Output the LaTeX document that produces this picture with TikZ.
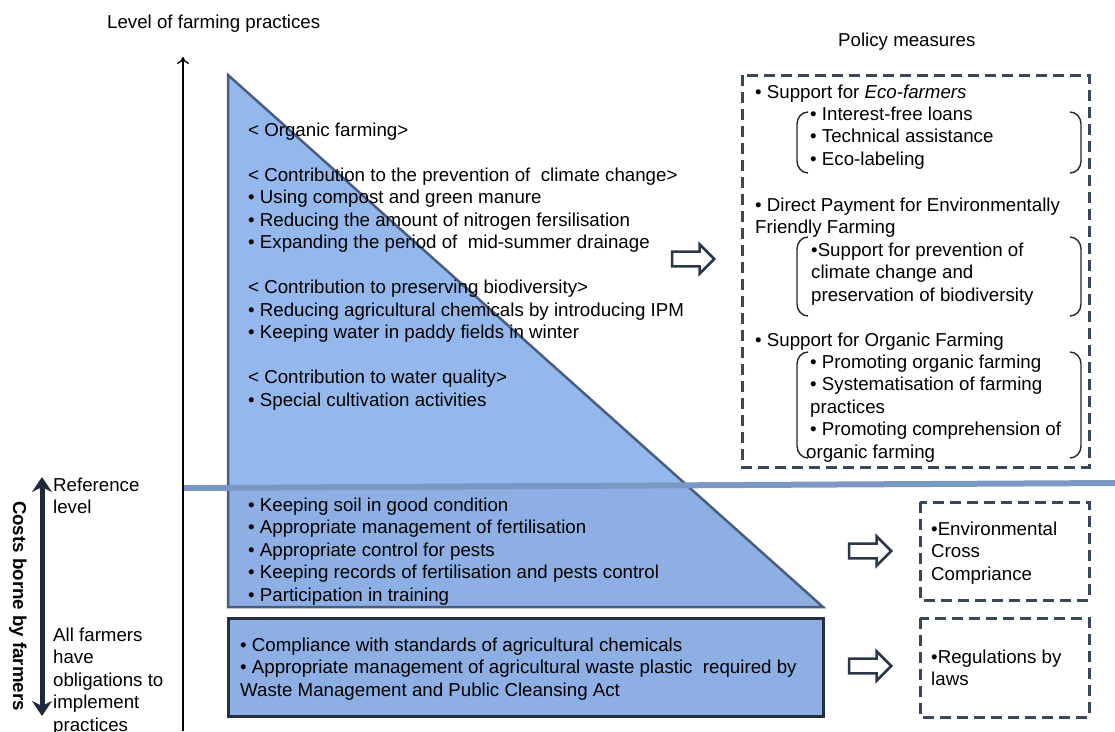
\documentclass[tikz,border=0pt]{standalone}
\usepackage{fontspec}
\setmainfont{Liberation Sans}
\usetikzlibrary{arrows.meta,shapes.arrows}
\definecolor{triup}{HTML}{95B8EC}
\definecolor{trilow}{HTML}{8DAFE4}
\definecolor{triborder}{HTML}{4A5D7E}
\definecolor{boxborder}{HTML}{27303D}
\definecolor{refline}{HTML}{7B98C4}
\definecolor{dashcol}{HTML}{3A475B}
\definecolor{arrcol}{HTML}{2B3646}
\definecolor{dblcol}{HTML}{1F2B3B}
\begin{document}
\begin{tikzpicture}[x=1pt,y=-1pt,
  txt/.style={font=\fontsize{18.7}{22.5}\selectfont, inner sep=0pt, anchor=base west, align=left, text=black},
  dbox/.style={draw=dashcol, line width=3pt, dash pattern=on 11pt off 6pt},
  hollow/.style={single arrow, draw=arrcol, fill=white, line width=2.5pt, minimum height=42pt, minimum width=29pt, inner sep=6.2pt, single arrow tip angle=90, anchor=tip},
  brk/.style={draw=black!85, line width=1.4pt},
]
\useasboundingbox (0,0) rectangle (1115,731);

% triangle with two shades
\fill[trilow] (228,75) -- (228,607) -- (823,607) -- cycle;
\begin{scope}
  \clip (0,0) rectangle (1115,487);
  \fill[triup] (228,75) -- (228,607) -- (823,607) -- cycle;
\end{scope}
\draw[triborder, line width=2.5pt, line join=miter] (228,75) -- (228,607) -- (823,607) -- cycle;

% bottom box
\draw[boxborder, fill=trilow, line width=3pt] (228,618) rectangle (823,716);

% axis
\coordinate (axbot) at (183,731);
\coordinate (axtop) at (183,57);
\draw[-{To[length=7pt,width=12pt]}, line width=1.3pt] (axbot) -- (axtop);

% reference line
\coordinate (refL) at (184,488);
\coordinate (refR) at (1115,483);
\draw[refline, line width=6pt] (refL) -- (refR);

% titles (anchor = baseline of last line)
\node[txt] (ytitle) at (107,28) {Level of farming practices};
\node[txt] (ptitle) at (838,46) {Policy measures};

% triangle text
\node[txt] (orgtxt) at (248,406) {< Organic farming>\\[22.5pt]
< Contribution to the prevention of\ \ climate change>\\
• Using compost and green manure\\
• Reducing the amount of nitrogen fersilisation\\
• Expanding the period of\ \ mid-summer drainage\\[22.5pt]
< Contribution to preserving biodiversity>\\
• Reducing agricultural chemicals by introducing IPM\\
• Keeping water in paddy fields in winter\\[22.5pt]
< Contribution to water quality>\\
• Special cultivation activities};

\node[txt] (refpract) at (248,601) {• Keeping soil in good condition\\
• Appropriate management of fertilisation\\
• Appropriate control for pests\\
• Keeping records of fertilisation and pests control\\
• Participation in training};

\node[txt] (lawtxt) at (240,696) {• Compliance with standards of agricultural chemicals\\
• Appropriate management of agricultural waste plastic\ \ required by\\
Waste Management and Public Cleansing Act};

% left labels
\node[txt] (reflev) at (53,513.5) {Reference\\level};
\node[txt] (allf) at (53,731) {All farmers\\have\\obligations to\\implement\\practices};
\node[font=\fontsize{18.7}{22.5}\selectfont\bfseries, rotate=-90, inner sep=0pt] (costs) at (18,606) {Costs borne by farmers};
\coordinate (dtop) at (42,477);
\coordinate (dbot) at (42,716);
\draw[dblcol, line width=5pt, {Stealth[length=15pt,width=20pt]}-{Stealth[length=15pt,width=20pt]}] (dtop) -- (dbot);

% policy boxes
\draw[dbox] (742,75) rectangle (1089,467);
\draw[dbox] (920,502) rectangle (1089,600);
\draw[dbox] (920,618) rectangle (1089,717);

% policy text
\node[txt] (eco) at (755,98) {• Support for \textit{Eco-farmers}};
\node[txt] (ecosub) at (810,165) {• Interest-free loans\\• Technical assistance\\• Eco-labeling};
\node[txt] (dp) at (755,233.5) {• Direct Payment for Environmentally\\Friendly Farming};
\node[txt] (dpsub) at (811,301) {•Support for prevention of\\climate change and\\preservation of biodiversity};
\node[txt] (org) at (755,346) {• Support for Organic Farming};
\node[txt] (orgsub) at (810,458) {• Promoting organic farming\\• Systematisation of farming\\practices\\• Promoting comprehension of\\\hspace*{-4pt}organic farming};

\node[txt] (ecc) at (931,580) {•Environmental\\Cross\\Compriance};
\node[txt] (reg) at (931,685.5) {•Regulations by\\laws};

% brackets
\foreach \t/\b in {112/173, 237/316, 352/458}{
  \draw[brk] (808,\t) to[out=180,in=90] (797,\t+12) -- (797,\b-12) to[out=-90,in=180] (808,\b);
  \draw[brk] (1070,\t) to[out=0,in=90] (1081,\t+12) -- (1081,\b-12) to[out=-90,in=0] (1070,\b);
}

% hollow arrows
\node[hollow] (arr1) at (716,259) {};
\node[hollow] (arr2) at (893,551) {};
\node[hollow] (arr3) at (893,666) {};
\end{tikzpicture}
\end{document}
